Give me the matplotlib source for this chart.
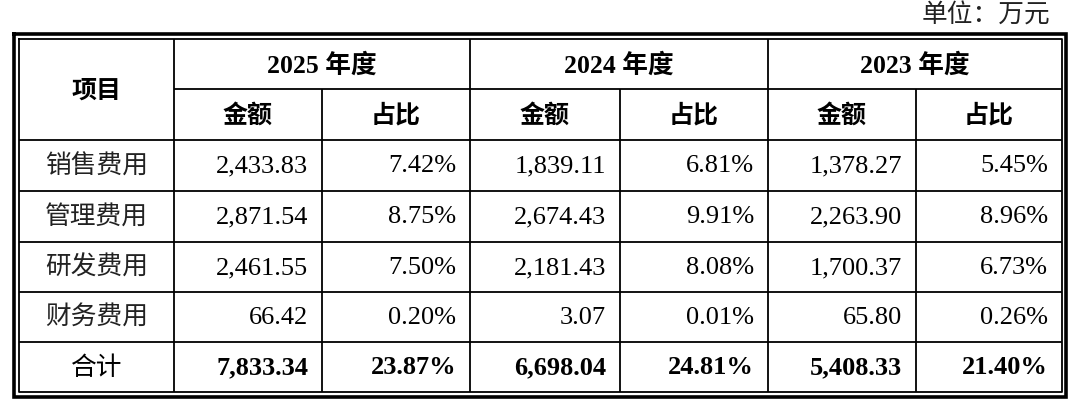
import matplotlib
matplotlib.use("Agg")
import matplotlib.pyplot as plt

# 数据
years = ["2025 年度", "2024 年度", "2023 年度"]
sub_headers = ["金额", "占比"]
items = ["销售费用", "管理费用", "研发费用", "财务费用"]
amount_2025 = ["2,433.83", "2,871.54", "2,461.55", "66.42"]
ratio_2025 = ["7.42%", "8.75%", "7.50%", "0.20%"]
amount_2024 = ["1,839.11", "2,674.43", "2,181.43", "3.07"]
ratio_2024 = ["6.81%", "9.91%", "8.08%", "0.01%"]
amount_2023 = ["1,378.27", "2,263.90", "1,700.37", "65.80"]
ratio_2023 = ["5.45%", "8.96%", "6.73%", "0.26%"]
total_label = "合计"
total_row = ["7,833.34", "23.87%", "6,698.04", "24.81%", "5,408.33", "21.40%"]
unit_text = "单位：万元"

# mise en page (pixels)
col_x = [19, 174, 322, 470, 620, 768, 916, 1062]
row_y = [40, 90, 141, 192, 243, 293, 343, 393]

cjk = ["Noto Sans CJK SC", "DejaVu Sans"]
serif = ["Liberation Serif", "Noto Sans CJK SC"]

fig = plt.figure(figsize=(10.8, 4.1), dpi=100)
ax = fig.add_axes([0, 0, 1, 1])
ax.set_xlim(0, 1080)
ax.set_ylim(410, 0)
ax.axis("off")

lw = 1.3
# bordure double
ax.plot([14, 1066, 1066, 14, 14], [35, 35, 398, 398, 35], color="black", lw=2.6, solid_joinstyle="miter")
ax.plot([col_x[0], col_x[-1], col_x[-1], col_x[0], col_x[0]],
        [row_y[0], row_y[0], row_y[-1], row_y[-1], row_y[0]], color="black", lw=lw)

# lignes horizontales
ax.hlines(row_y[1], col_x[1], col_x[-1], color="black", lw=lw)
for y in row_y[2:-1]:
    ax.hlines(y, col_x[0], col_x[-1], color="black", lw=lw)
# lignes verticales
for i, x in enumerate(col_x[1:-1], start=1):
    top = row_y[0] if i % 2 == 1 else row_y[1]
    ax.vlines(x, top, row_y[-1], color="black", lw=lw)

# en-têtes
ax.text((col_x[0] + col_x[1]) / 2, (row_y[0] + row_y[2]) / 2, "项目",
        ha="center", va="center", fontsize=18, family=cjk, weight="bold")
for g, yr in enumerate(years):
    x0, x1 = col_x[1 + 2 * g], col_x[3 + 2 * g]
    ax.text((x0 + x1) / 2, (row_y[0] + row_y[1]) / 2, yr,
            ha="center", va="center", fontsize=18.5, family=serif, weight="bold")
    for s, sh in enumerate(sub_headers):
        xa, xb = col_x[1 + 2 * g + s], col_x[2 + 2 * g + s]
        ax.text((xa + xb) / 2, (row_y[1] + row_y[2]) / 2, sh,
                ha="center", va="center", fontsize=18, family=cjk, weight="bold")

# corps
columns = [amount_2025, ratio_2025, amount_2024, ratio_2024, amount_2023, ratio_2023]
for r, name in enumerate(items):
    yc = (row_y[2 + r] + row_y[3 + r]) / 2
    ax.text((col_x[0] + col_x[1]) / 2, yc, name, ha="center", va="center",
            fontsize=18.5, family=cjk, color="#222222")
    for c, col in enumerate(columns):
        ax.text(col_x[2 + c] - 14, yc, col[r], ha="right", va="center",
                fontsize=19, family=serif)

yc = (row_y[-2] + row_y[-1]) / 2
ax.text((col_x[0] + col_x[1]) / 2, yc, total_label, ha="center", va="center",
        fontsize=18.5, family=cjk)
for c, val in enumerate(total_row):
    ax.text(col_x[2 + c] - 14, yc, val, ha="right", va="center",
            fontsize=19, family=serif, weight="bold")

ax.text(1050, 16, unit_text, ha="right", va="center", fontsize=18.5, family=cjk, color="#222222")

fig.savefig("out.png", dpi=100)
